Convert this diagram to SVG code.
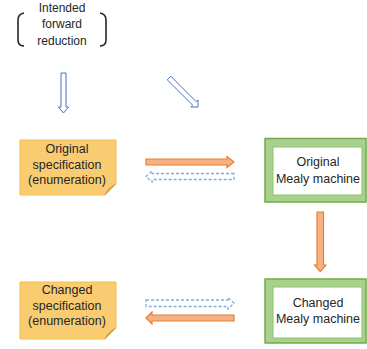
<svg xmlns="http://www.w3.org/2000/svg" width="367" height="349" viewBox="0 0 367 349">
<style>
text{font-family:"Liberation Sans",Arial,sans-serif;fill:#262626;text-anchor:middle}
.t12{font-size:12px}
.t13{font-size:12.5px}
.note{fill:#F9CC72;stroke:#F2BE4E;stroke-width:1}
.fold{fill:#E0A93A;stroke:#D9A030;stroke-width:0.6}
.outer{fill:#A9D18E;stroke:#70AD47;stroke-width:1.5}
.inner{fill:#fff;stroke:#8CC46A;stroke-width:1}
.solid{fill:#F4B183;stroke:#ED7D31;stroke-width:1.2}
.dash{fill:#fff;stroke:#7FADE0;stroke-width:1.3;stroke-dasharray:3 2}
.hollow{fill:#fff;stroke:#4472C4;stroke-width:1}
.br{fill:none;stroke:#262626;stroke-width:1.6}
</style>
<g id="intended">
<path class="br" d="M24,13 Q18,14 18,20 L18,40 Q18,46 24,46"/>
<path class="br" d="M100,13 Q106,14 106,20 L106,40 Q106,46 100,46"/>
<text class="t12" x="62" y="12">Intended</text>
<text class="t12" x="62" y="28">forward</text>
<text class="t12" x="62" y="45">reduction</text>
</g>
<g id="orig-spec">
<path class="note" d="M20,140 L116,140 L116,184 L105,195 L20,195 Z"/>
<path class="fold" d="M116,184 L105,195 Q107,188 116,184 Z"/>
<text class="t13" x="67" y="153">Original</text>
<text class="t13" x="67" y="168.5">specification</text>
<text class="t13" x="67" y="184">(enumeration)</text>
</g>
<g id="changed-spec">
<path class="note" d="M20,282 L116,282 L116,328 L105,339 L20,339 Z"/>
<path class="fold" d="M116,328 L105,339 Q107,332 116,328 Z"/>
<text class="t13" x="67" y="294">Changed</text>
<text class="t13" x="67" y="309.5">specification</text>
<text class="t13" x="67" y="325">(enumeration)</text>
</g>
<g id="orig-mealy">
<rect class="outer" x="265" y="138.5" width="101" height="63.5"/>
<rect class="inner" x="273" y="147" width="89" height="48"/>
<text class="t13" x="318" y="166">Original</text>
<text class="t13" x="318" y="183">Mealy machine</text>
</g>
<g id="changed-mealy">
<rect class="outer" x="265" y="279" width="101" height="64"/>
<rect class="inner" x="273" y="287" width="89" height="51"/>
<text class="t13" x="318" y="307">Changed</text>
<text class="t13" x="318" y="323">Mealy machine</text>
</g>
<g id="connectors">
<path class="hollow" d="M61,73 L66,73 L66,107 L68.5,107 L63.5,113 L58.5,107 L61,107 Z"/>
<path class="hollow" d="M170.8,76.2 L196.2,101.7 L198,99.9 L198,107 L190.9,107 L192.7,105.2 L167.2,79.8 Z"/>
<path class="solid" d="M146,159 L227,159 L227,156.5 L234,162 L227,167.5 L227,165 L146,165 Z"/>
<path class="dash" d="M234,173.5 L152,173.5 L152,171 L146,176.5 L152,182 L152,179.5 L234,179.5 Z"/>
<path class="solid" d="M317,212 L323.5,212 L323.5,265 L326,265 L320.25,271.5 L314.5,265 L317,265 Z"/>
<path class="dash" d="M146,300 L228,300 L228,297.5 L234,303.25 L228,309 L228,306.5 L146,306.5 Z"/>
<path class="solid" d="M234,315 L152,315 L152,312 L146,318 L152,324 L152,321 L234,321 Z"/>
</g>
</svg>
